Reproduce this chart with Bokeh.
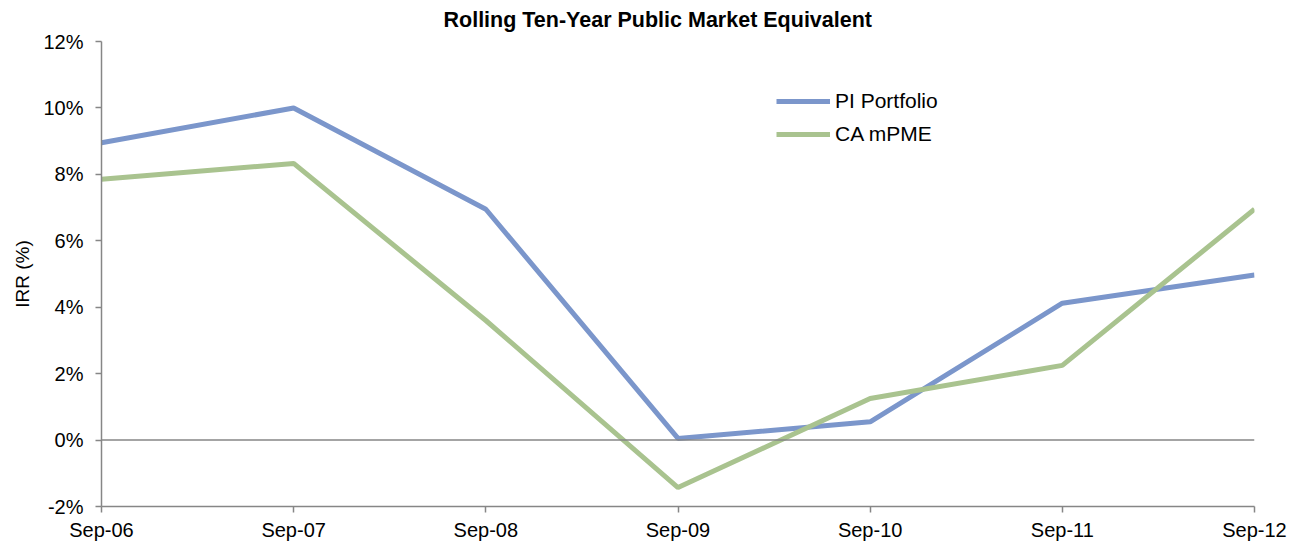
from bokeh.plotting import figure
from bokeh.models import Range1d, FixedTicker, Span, Legend, LegendItem, Title
from bokeh.embed import file_html
from bokeh.resources import INLINE

categories = ["Sep-06", "Sep-07", "Sep-08", "Sep-09", "Sep-10", "Sep-11", "Sep-12"]
pi_portfolio = [8.95, 10.0, 6.95, 0.05, 0.55, 4.12, 4.97]
ca_mpme = [7.85, 8.33, 3.6, -1.43, 1.25, 2.25, 6.95]
y_ticks = [-2, 0, 2, 4, 6, 8, 10, 12]
title_text = "Rolling Ten-Year Public Market Equivalent"

FONT = "Liberation Sans"
xs = list(range(len(categories)))

p = figure(width=1300, height=546, output_backend="svg", toolbar_location=None,
           x_range=Range1d(0, len(categories) - 1), y_range=Range1d(-2, 12),
           min_border_left=101, min_border_right=46, min_border_top=41, min_border_bottom=40)
p.title = Title(text=title_text, align="left", offset=342, vertical_align="top",
                text_font=FONT, text_font_size="21.5px", text_font_style="bold",
                text_color="#000000", standoff=15)
p.outline_line_color = None
p.grid.visible = False
p.background_fill_color = "white"
p.border_fill_color = "white"

p.xaxis.ticker = FixedTicker(ticks=xs)
p.xaxis.major_label_overrides = {i: c for i, c in enumerate(categories)}
p.yaxis.ticker = FixedTicker(ticks=y_ticks)
p.yaxis.major_label_overrides = {v: f"{v}%" for v in y_ticks}

for ax in (p.xaxis, p.yaxis):
    ax.axis_line_color = "#868686"
    ax.axis_line_width = 1.5
    ax.major_tick_line_color = "#868686"
    ax.major_tick_line_width = 1.5
    ax.minor_tick_line_color = None
    ax.major_tick_in = 0
    ax.major_tick_out = 6
    ax.major_label_text_font = FONT
    ax.major_label_text_font_size = "20px"
    ax.major_label_text_color = "#000000"

p.xaxis.major_label_standoff = 6
p.yaxis.major_label_standoff = 12
p.yaxis.axis_label = "IRR (%)"
p.yaxis.axis_label_text_font = FONT
p.yaxis.axis_label_text_font_size = "19px"
p.yaxis.axis_label_text_font_style = "normal"
p.yaxis.axis_label_text_color = "#000000"
p.yaxis.axis_label_standoff = 7

p.add_layout(Span(location=0, dimension="width", line_color="#868686", line_width=1.5))

r1 = p.line(xs, pi_portfolio, line_color="#7B96CB", line_width=5)
r2 = p.line(xs, ca_mpme, line_color="#A9C38F", line_width=5)

legend = Legend(items=[LegendItem(label="PI Portfolio", renderers=[r1]),
                       LegendItem(label="CA mPME", renderers=[r2])],
                location=(675, 360), padding=0, margin=0, spacing=9,
                glyph_width=54, glyph_height=24, label_height=24, label_standoff=5,
                label_text_font=FONT, label_text_font_size="21px", label_text_color="#000000",
                border_line_color=None, background_fill_alpha=0)
p.add_layout(legend, "center")

open("out.html", "w").write(file_html(p, INLINE))
